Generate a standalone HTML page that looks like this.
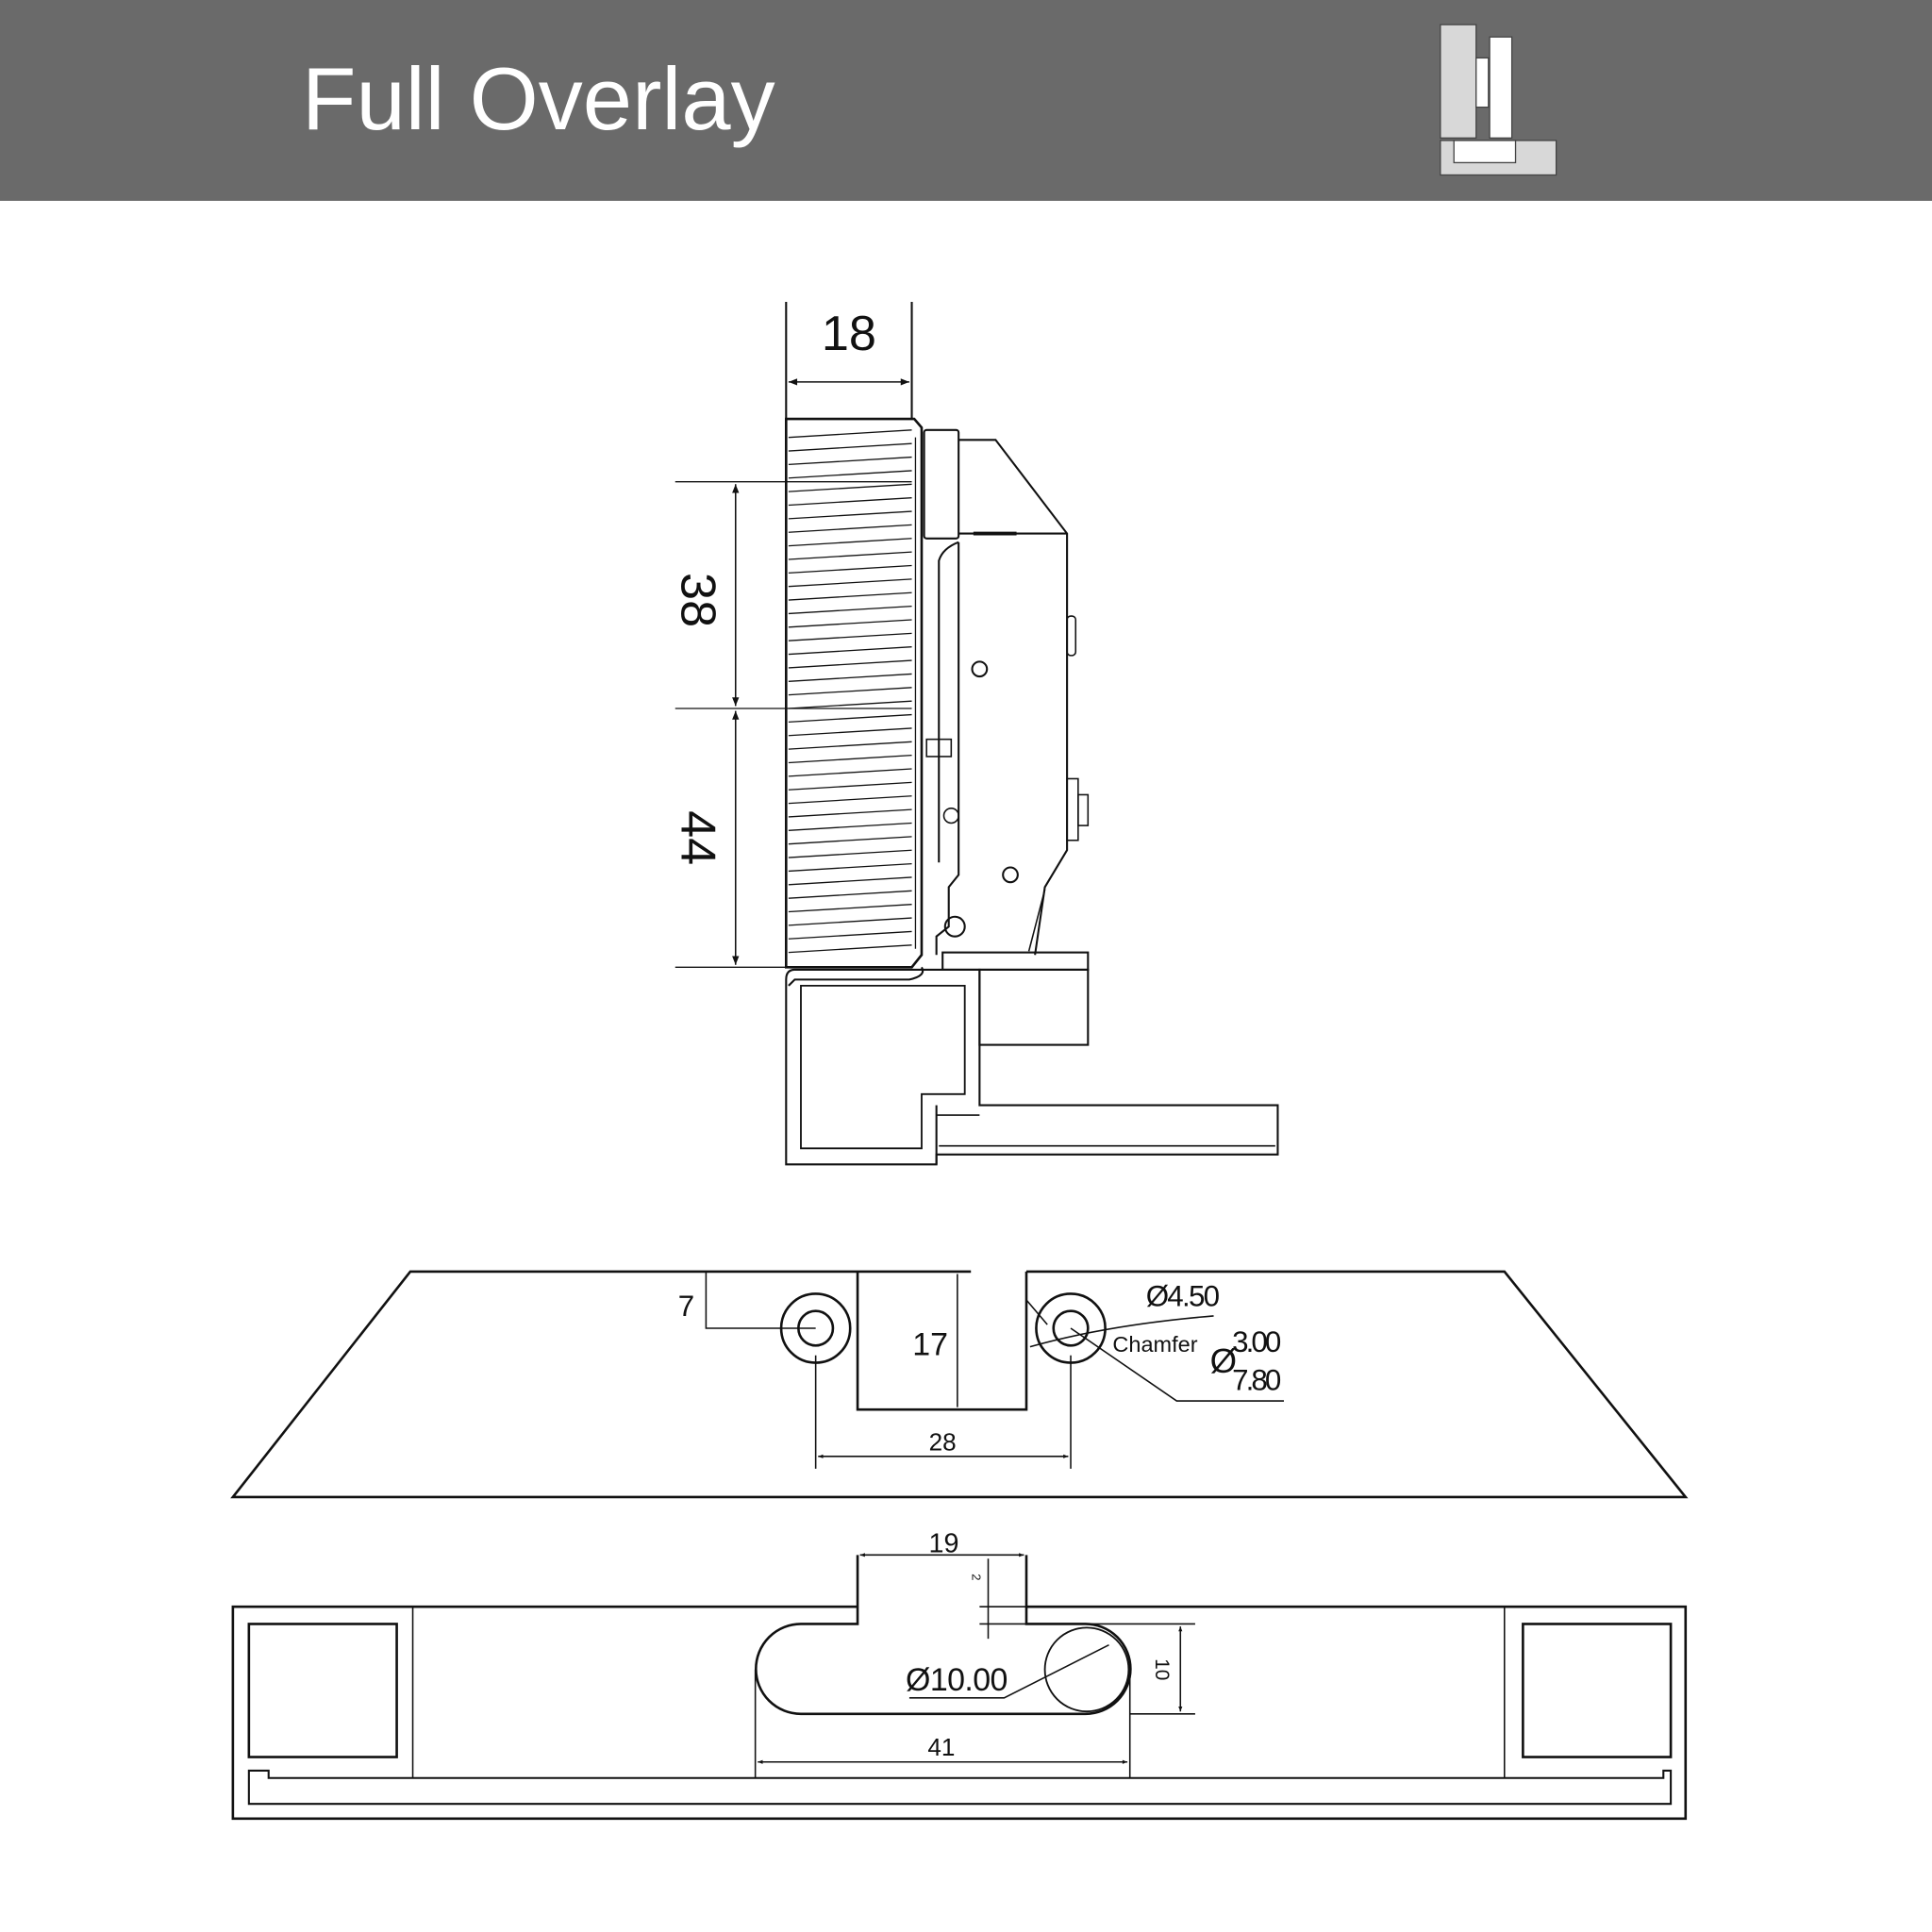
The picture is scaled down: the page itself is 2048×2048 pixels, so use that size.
<!DOCTYPE html>
<html><head><meta charset="utf-8"><style>
html,body{margin:0;padding:0;background:#fff}
svg{display:block}
text{font-family:"Liberation Sans",sans-serif}
</style></head><body>
<svg width="2048" height="2048" viewBox="0 0 1568 1568" xmlns="http://www.w3.org/2000/svg">
<defs>
<marker id="a" viewBox="0 0 10 10" refX="10" refY="5" markerWidth="9" markerHeight="7" orient="auto-start-reverse" markerUnits="userSpaceOnUse"><path d="M0,1 L10,5 L0,9 Z" fill="#111"/></marker>
<marker id="s" viewBox="0 0 10 10" refX="10" refY="5" markerWidth="6" markerHeight="4" orient="auto-start-reverse" markerUnits="userSpaceOnUse"><path d="M0,1 L10,5 L0,9 Z" fill="#111"/></marker>
</defs>
<rect x="0" y="0" width="1568" height="163" fill="#6a6a6a"/>
<text x="245" y="105" font-size="72" fill="#fff">Full Overlay</text>
<g stroke="#444" stroke-width="1">
<rect x="1169" y="20" width="29" height="92" fill="#d8d8d8"/>
<rect x="1198" y="47" width="10" height="40" fill="#fff"/>
<rect x="1209" y="30" width="18" height="82" fill="#fff"/>
<rect x="1169" y="114" width="94" height="28" fill="#d8d8d8"/>
<rect x="1180" y="114" width="50" height="18" fill="#fff"/>
</g>

<g fill="none" stroke="#111" stroke-width="1.6">
<!-- 18 dim -->
<line x1="638" y1="245" x2="638" y2="340"/><line x1="740" y1="245" x2="740" y2="340"/>
<line x1="640" y1="310" x2="738" y2="310" marker-start="url(#a)" marker-end="url(#a)" stroke-width="1.2"/>
<!-- panel -->
<path d="M638,340 L742,340 L748,347 L748,775 L740,785 L638,785 Z" stroke-width="2"/>
<g stroke-width="1">
<line x1="640" y1="355" x2="740" y2="349"/><line x1="640" y1="366" x2="740" y2="360"/><line x1="640" y1="377" x2="740" y2="371"/><line x1="640" y1="388" x2="740" y2="382"/><line x1="640" y1="399" x2="740" y2="393"/><line x1="640" y1="410" x2="740" y2="404"/><line x1="640" y1="421" x2="740" y2="415"/><line x1="640" y1="432" x2="740" y2="426"/><line x1="640" y1="443" x2="740" y2="437"/><line x1="640" y1="454" x2="740" y2="448"/><line x1="640" y1="465" x2="740" y2="459"/><line x1="640" y1="476" x2="740" y2="470"/><line x1="640" y1="487" x2="740" y2="481"/><line x1="640" y1="498" x2="740" y2="492"/><line x1="640" y1="509" x2="740" y2="503"/><line x1="640" y1="520" x2="740" y2="514"/><line x1="640" y1="531" x2="740" y2="525"/><line x1="640" y1="542" x2="740" y2="536"/><line x1="640" y1="553" x2="740" y2="547"/><line x1="640" y1="564" x2="740" y2="558"/><line x1="640" y1="575" x2="740" y2="569"/><line x1="640" y1="586" x2="740" y2="580"/><line x1="640" y1="597" x2="740" y2="591"/><line x1="640" y1="608" x2="740" y2="602"/><line x1="640" y1="619" x2="740" y2="613"/><line x1="640" y1="630" x2="740" y2="624"/><line x1="640" y1="641" x2="740" y2="635"/><line x1="640" y1="652" x2="740" y2="646"/><line x1="640" y1="663" x2="740" y2="657"/><line x1="640" y1="674" x2="740" y2="668"/><line x1="640" y1="685" x2="740" y2="679"/><line x1="640" y1="696" x2="740" y2="690"/><line x1="640" y1="707" x2="740" y2="701"/><line x1="640" y1="718" x2="740" y2="712"/><line x1="640" y1="729" x2="740" y2="723"/><line x1="640" y1="740" x2="740" y2="734"/><line x1="640" y1="751" x2="740" y2="745"/><line x1="640" y1="762" x2="740" y2="756"/><line x1="640" y1="773" x2="740" y2="767"/>
<!-- dim lines -->
<line x1="548" y1="391" x2="740" y2="391"/><line x1="548" y1="575" x2="740" y2="575"/><line x1="548" y1="785" x2="638" y2="785"/>
</g>
<line x1="597" y1="393" x2="597" y2="573" marker-start="url(#a)" marker-end="url(#a)" stroke-width="1.2"/>
<line x1="597" y1="577" x2="597" y2="783" marker-start="url(#a)" marker-end="url(#a)" stroke-width="1.2"/>
<!-- hinge -->
<rect x="750" y="349" width="28" height="88" rx="2"/>
<line x1="743" y1="355" x2="743" y2="770" stroke-width="1"/>
<path d="M778,357 L808,357 L866,433 L866,690 L848,720 L840,775"/>
<path d="M778,433 L866,433"/>
<path d="M778,440 L778,710 L770,720 L770,752 L760,760 L760,775"/>
<path d="M778,440 Q765,445 762,455 L762,700"/>
<path d="M835,772 L848,722" stroke-width="1.2"/>
<rect x="752" y="600" width="20" height="14" stroke-width="1.2"/>
<circle cx="795" cy="543" r="6"/><circle cx="820" cy="710" r="6"/><circle cx="775" cy="752" r="8"/>
<circle cx="772" cy="662" r="6" stroke-width="1.2"/>
<rect x="866" y="500" width="7" height="32" rx="3" stroke-width="1.2"/>
<rect x="866" y="632" width="9" height="50" stroke-width="1.2"/>
<rect x="875" y="645" width="8" height="25" stroke-width="1.2"/>
<line x1="790" y1="433" x2="825" y2="433" stroke-width="3"/>
<!-- base -->
<rect x="765" y="773" width="118" height="14"/>
<rect x="795" y="787" width="88" height="61"/>
<path d="M748,785 Q752,792 738,795 L645,795 L640,800"/>
<path d="M645,787 L795,787 L795,897 L1037,897 L1037,937 L760,937 L760,945 L638,945 L638,795 Q638,787 645,787"/>
<path d="M650,800 L783,800 L783,888 L748,888 L748,932 L650,932 Z" stroke-width="1.4"/>
<line x1="760" y1="897" x2="760" y2="945"/>
<line x1="762" y1="930" x2="1035" y2="930" stroke-width="1.2"/>
<line x1="760" y1="905" x2="795" y2="905" stroke-width="1.2"/>
</g>
<text x="689" y="284" font-size="40" text-anchor="middle" fill="#111">18</text>
<text transform="translate(553,487) rotate(90)" font-size="40" text-anchor="middle" fill="#111">38</text>
<text transform="translate(553,680) rotate(90)" font-size="40" text-anchor="middle" fill="#111">44</text>

<!-- trapezoid -->
<g fill="none" stroke="#111" stroke-width="2">
<path d="M788,1032 L333,1032 L189,1215 L1368,1215 L1221,1032 L833,1032"/>
<path d="M696,1032 L696,1144 L833,1144 L833,1032"/>
<circle cx="662" cy="1078" r="28"/><circle cx="662" cy="1078" r="14"/>
<circle cx="869" cy="1078" r="28"/><circle cx="869" cy="1078" r="14"/>
</g>
<g fill="none" stroke="#111" stroke-width="1.2">
<line x1="777" y1="1034" x2="777" y2="1142"/>
<path d="M573,1032 L573,1078 L662,1078"/>
<line x1="662" y1="1100" x2="662" y2="1192"/><line x1="869" y1="1100" x2="869" y2="1192"/>
<line x1="664" y1="1182" x2="867" y2="1182" marker-start="url(#s)" marker-end="url(#s)"/>
<path d="M836,1093 Q900,1075 985,1068"/>
<line x1="833" y1="1055" x2="850" y2="1075"/>
<path d="M869,1078 L955,1137 L1042,1137"/>
</g>
<text x="557" y="1068" font-size="24" text-anchor="middle" fill="#111">7</text>
<text x="755" y="1100" font-size="26" text-anchor="middle" fill="#111">17</text>
<text x="765" y="1177" font-size="20" text-anchor="middle" fill="#111">28</text>
<text x="930" y="1060" font-size="24" fill="#111" textLength="60">Ø4.50</text>
<text x="903" y="1097" font-size="18" fill="#111">Chamfer</text>
<text x="1000" y="1097" font-size="24" fill="#111" textLength="40">3.00</text>
<text x="982" y="1114" font-size="28" fill="#111">Ø</text>
<text x="1000" y="1128" font-size="24" fill="#111" textLength="40">7.80</text>

<!-- bottom profile -->
<g fill="none" stroke="#111" stroke-width="2">
<path d="M696,1304 L189,1304 L189,1476 L1368,1476 L1368,1304 L833,1304"/>
<path d="M696,1262 L696,1318 L650,1318 A36,36 0 0 0 650,1391 L881,1391 A36,36 0 0 0 881,1318 L833,1318 L833,1262"/>
<circle cx="882" cy="1355" r="34" stroke-width="1.4"/>
<rect x="202" y="1318" width="120" height="108"/>
<rect x="1236" y="1318" width="120" height="108"/>
<path d="M202,1464 L1356,1464 L1356,1437 L1350,1437 L1350,1443 L218,1443 L218,1437 L202,1437 Z" stroke-width="1.6"/>
</g>
<g fill="none" stroke="#111" stroke-width="1.2">
<line x1="335" y1="1304" x2="335" y2="1443"/><line x1="1221" y1="1304" x2="1221" y2="1443"/>
<line x1="613" y1="1355" x2="613" y2="1443"/><line x1="917" y1="1355" x2="917" y2="1443"/>
<line x1="615" y1="1430" x2="915" y2="1430" marker-start="url(#s)" marker-end="url(#s)"/>
<line x1="698" y1="1262" x2="831" y2="1262" marker-start="url(#s)" marker-end="url(#s)"/>
<line x1="802" y1="1265" x2="802" y2="1330"/>
<line x1="795" y1="1304" x2="833" y2="1304"/><line x1="795" y1="1318" x2="970" y2="1318"/>
<line x1="917" y1="1391" x2="970" y2="1391"/>
<line x1="958" y1="1320" x2="958" y2="1389" marker-start="url(#s)" marker-end="url(#s)"/>
<path d="M738,1378 L815,1378 L900,1335"/>
</g>
<text x="766" y="1260" font-size="22" text-anchor="middle" fill="#111">19</text>
<text x="764" y="1425" font-size="20" text-anchor="middle" fill="#111">41</text>
<text x="735" y="1372" font-size="26" fill="#111" textLength="83">Ø10.00</text>
<text transform="translate(938,1355) rotate(90)" font-size="16" text-anchor="middle" fill="#111">10</text>
<text transform="translate(789,1280) rotate(90)" font-size="10" text-anchor="middle" fill="#111">2</text>
</svg>
</body></html>
